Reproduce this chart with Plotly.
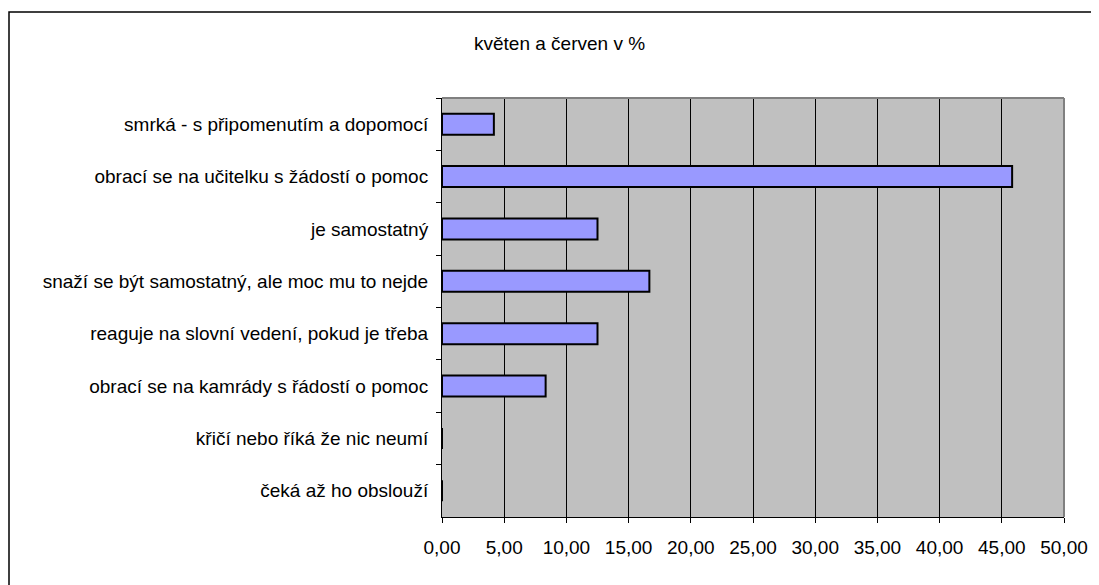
import plotly.graph_objects as go

# page body adds an 8px margin, so the figure is drawn 8px in and 8px down
OFF = 8
W, H = 1099 - OFF, 585 - OFF

categories = [
    "smrká - s připomenutím a dopomocí",
    "obrací se na učitelku s žádostí o pomoc",
    "je samostatný",
    "snaží se být samostatný, ale moc mu to nejde",
    "reaguje na slovní vedení, pokud je třeba",
    "obrací se na kamrády s řádostí o pomoc",
    "křičí nebo říká že nic neumí",
    "čeká až ho obslouží",
]
values = [4.17, 45.83, 12.50, 16.67, 12.50, 8.33, 0.0, 0.0]
x_ticks = [0, 5, 10, 15, 20, 25, 30, 35, 40, 45, 50]

# plot area in window pixels
px0, px1, py0, py1 = 442 - OFF, 1064 - OFF, 98 - OFF, 517 - OFF

font = dict(family="Liberation Sans, Arial, sans-serif", size=19, color="black")

fig = go.Figure()
fig.add_trace(go.Bar(
    x=values, y=categories, orientation="h",
    marker=dict(color="#9999FF", line=dict(color="black", width=2)),
    width=0.4,
))

fig.update_layout(
    width=W, height=H,
    margin=dict(l=0, r=0, t=0, b=0),
    paper_bgcolor="white", plot_bgcolor="#C0C0C0",
    showlegend=False, font=font, separators=", ",
    xaxis=dict(
        domain=[px0 / W, px1 / W], range=[0, 50],
        tickvals=x_ticks, tickformat=".2f", automargin=False,
        showgrid=True, gridcolor="black", gridwidth=1,
        showline=True, linecolor="black", linewidth=1,
        ticks="outside", ticklen=5, tickcolor="black",
        ticklabelstandoff=8, zeroline=False,
    ),
    yaxis=dict(
        domain=[1 - py1 / H, 1 - py0 / H], automargin=False,
        autorange="reversed", type="category",
        tickson="boundaries", ticks="outside", ticklen=5, tickcolor="black",
        showline=True, linecolor="black", linewidth=1,
        showgrid=False, ticklabelstandoff=9,
    ),
    shapes=[
        # grey frame on the top and right of the plot area
        dict(type="line", xref="paper", yref="paper",
             x0=px0 / W, x1=px1 / W, y0=1 - py0 / H, y1=1 - py0 / H,
             line=dict(color="#808080", width=2)),
        dict(type="line", xref="paper", yref="paper",
             x0=px1 / W, x1=px1 / W, y0=1 - py0 / H, y1=1 - py1 / H,
             line=dict(color="#808080", width=2)),
        # outer chart border
        dict(type="rect", xref="paper", yref="paper",
             x0=(9 - OFF) / W, x1=1.02, y0=-0.02, y1=1 - (12 - OFF) / H,
             line=dict(color="black", width=1.5)),
    ],
    annotations=[
        dict(text="květen a červen v %", xref="paper", yref="paper",
             x=(559 - OFF) / W, y=1 - (43 - OFF) / H, showarrow=False,
             xanchor="center", yanchor="middle", font=font),
    ],
)

fig.write_html("out.html")
